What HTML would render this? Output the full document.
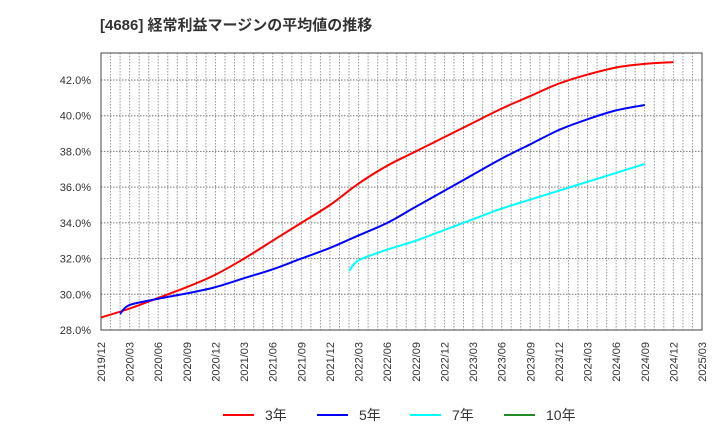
<!DOCTYPE html>
<html><head><meta charset="utf-8"><style>
body{margin:0;background:#fff;}
svg{display:block;font-family:"Liberation Sans","Noto Sans CJK JP",sans-serif;}
</style></head><body>
<svg id="chart" width="720" height="440" xmlns="http://www.w3.org/2000/svg">
<text x="100" y="30" font-size="15" font-weight="bold" fill="#333">[4686]  経常利益マージンの平均値の推移</text>
<g id="grid"></g>
<g id="axes"></g>
<g id="series"></g>
<g id="legend"></g>
</svg>
<script>
const xLabels=["2019/12","2020/03","2020/06","2020/09","2020/12","2021/03","2021/06","2021/09","2021/12","2022/03","2022/06","2022/09","2022/12","2023/03","2023/06","2023/09","2023/12","2024/03","2024/06","2024/09","2024/12","2025/03"];
const yTicks=[28,30,32,34,36,38,40,42];
// months after 2019/12 for each series' first value; later values are quarterly
const s3Start=0;
const s3=[28.7,29.2,29.8,30.4,31.1,32.0,33.0,34.0,35.0,36.2,37.2,38.0,38.8,39.6,40.4,41.1,41.8,42.3,42.7,42.9,43.0];
const s5Start=2;
const s5=[28.9,29.4,29.75,30.05,30.4,30.9,31.4,32.0,32.6,33.3,34.0,34.9,35.8,36.7,37.6,38.4,39.2,39.8,40.3,40.6];
const s7Start=26;
const s7=[31.3,31.9,32.5,33.0,33.6,34.2,34.8,35.3,35.8,36.3,36.8,37.3];
const s10Start=0;
const s10=[];
const seriesNames=["3年","5年","7年","10年"];
const NS="http://www.w3.org/2000/svg";
const L=101,R=702,T=53,B=330;
const xq=i=>L+i*(R-L)/(xLabels.length-1);
const xm=m=>L+m*(R-L)/((xLabels.length-1)*3);
const y=v=>B-(v-28)*(250/14);
function mk(tag,attrs,parent){const e=document.createElementNS(NS,tag);for(const k in attrs)e.setAttribute(k,attrs[k]);parent.appendChild(e);return e;}
const grid=document.getElementById('grid'),axes=document.getElementById('axes'),ser=document.getElementById('series'),leg=document.getElementById('legend');
for(let m=1;m<(xLabels.length-1)*3;m++){const l=mk('line',{x1:xm(m),x2:xm(m),y1:T,y2:B,stroke:'#999','stroke-dasharray':'1.5,1.5','stroke-width':1},grid);

}
yTicks.forEach(v=>{if(v>28){const l=mk('line',{x1:L,x2:R,y1:y(v),y2:y(v),stroke:'#777','stroke-dasharray':'1.5,1.5'},grid);

}
const t=mk('text',{x:L-10,y:y(v)+4,'font-size':11,'text-anchor':'end',fill:'#333'},axes);t.textContent=v.toFixed(1)+'%';

});
const fr=mk('rect',{x:L,y:T,width:R-L,height:B-T,fill:'none',stroke:'#444','stroke-width':1},axes);


xLabels.forEach((s,i)=>{const t=mk('text',{transform:`translate(${xq(i)+4},342) rotate(-90)`,'font-size':11,'text-anchor':'end',fill:'#333'},axes);t.textContent=s;

});
const colors=["#ff0000","#0000ff","#00ffff","#228b22"];
function smooth(p){if(p.length<2)return '';let d=`M${p[0][0]},${p[0][1]}`;
for(let i=0;i<p.length-1;i++){const p0=p[i-1]||p[i],p1=p[i],p2=p[i+1],p3=p[i+2]||p2;
const c1=[p1[0]+(p2[0]-p0[0])/6,p1[1]+(p2[1]-p0[1])/6],c2=[p2[0]-(p3[0]-p1[0])/6,p2[1]-(p3[1]-p1[1])/6];
d+=` C${c1[0].toFixed(1)},${c1[1].toFixed(1)} ${c2[0].toFixed(1)},${c2[1].toFixed(1)} ${p2[0].toFixed(1)},${p2[1].toFixed(1)}`;}return d;}
const starts=[s3Start,s5Start,s7Start,s10Start];
[s3,s5,s7,s10].forEach((d,k)=>{const pts=d.map((v,i)=>{const m=i===0?starts[k]:Math.ceil((starts[k]+1)/3)*3+(i-1)*3;return [xm(Math.max(m,starts[k])),y(v)];});
// first value at start month, subsequent at quarter ends
if(pts.length){const p=mk('path',{d:smooth(pts),fill:'none',stroke:colors[k],'stroke-width':2,'stroke-linejoin':'round'},ser);

}});
const lx=[223,317,410,504];
seriesNames.forEach((n,k)=>{const g=mk('g',{},leg);


mk('line',{x1:lx[k],x2:lx[k]+31,y1:415,y2:415,stroke:colors[k],'stroke-width':2},g);
const t=mk('text',{x:lx[k]+42,y:420,'font-size':14,fill:'#333'},g);t.textContent=n;});
</script>
</body></html>
